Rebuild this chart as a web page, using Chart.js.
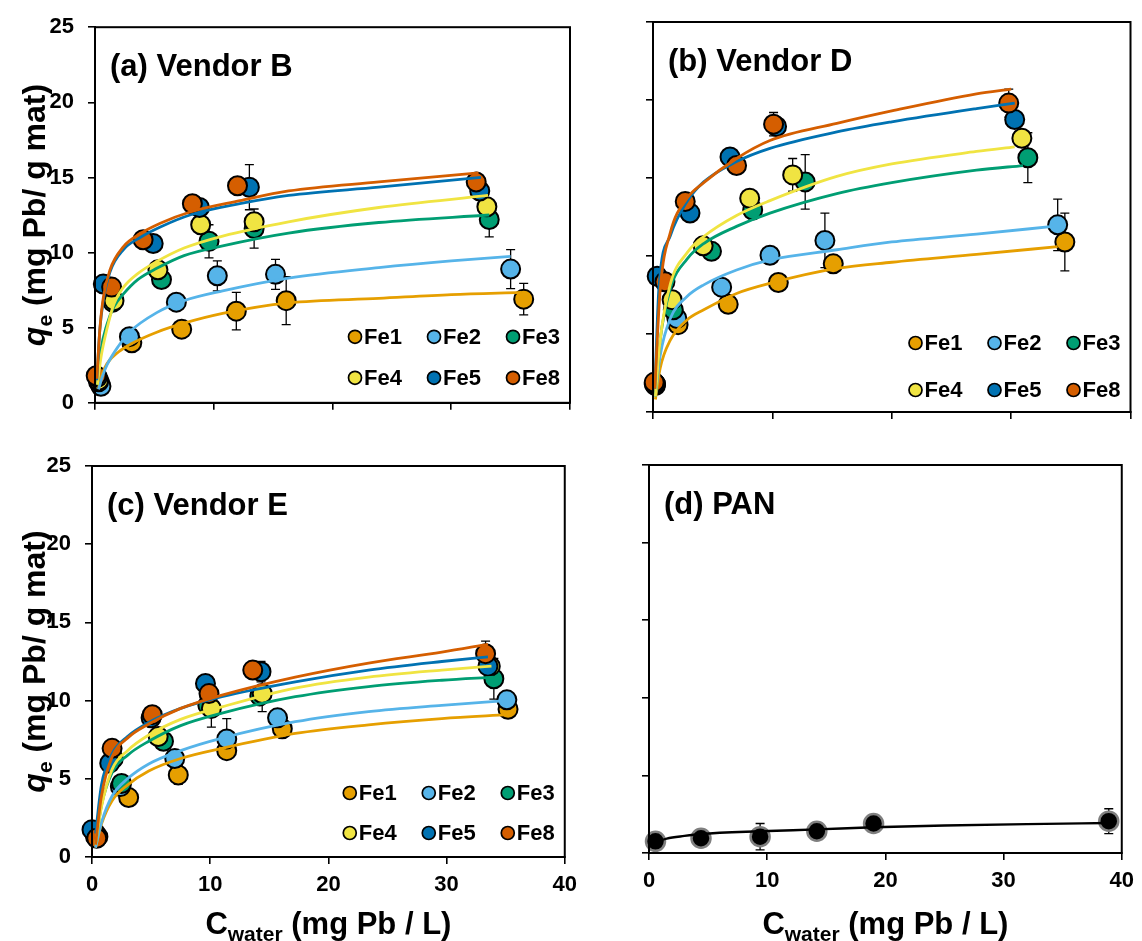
<!DOCTYPE html>
<html><head><meta charset="utf-8">
<script src="https://cdn.jsdelivr.net/npm/chart.js@4.4.1/dist/chart.umd.min.js"></script>
<style>
html,body{margin:0;padding:0;background:#fff;width:1142px;height:941px;overflow:hidden;}
canvas{position:absolute;}
</style></head><body>
<canvas id="pa" width="585" height="430" style="left:0px;top:0px;width:585px;height:430px"></canvas>
<canvas id="pb" width="552" height="430" style="left:590px;top:0px;width:552px;height:430px"></canvas>
<canvas id="pc" width="585" height="505" style="left:0px;top:436px;width:585px;height:505px"></canvas>
<canvas id="pd" width="552" height="505" style="left:590px;top:436px;width:552px;height:505px"></canvas>
<script>
// ---------- labels / ticks ----------
const seriesNames = ['Fe1','Fe2','Fe3','Fe4','Fe5','Fe8'];
const seriesColors = ['#E69F00','#56B4E9','#009E73','#F0E442','#0072B2','#D55E00'];
const panelTitles = ['(a) Vendor B','(b) Vendor D','(c) Vendor E','(d) PAN'];
const panLabel = ['PAN'];
const xTickStep = 10, xMin = 0, xMax = 40;
const yTickStep = 5, yMin = 0, yMax = 25;

// ---------- (a) Vendor B : [C, q, error] ----------
const vendorB_Fe1 = [[0.4,1.3,0],[3.1,4.0,0.4],[7.3,4.9,0.35],[11.9,6.1,1.25],[16.1,6.8,1.6],[36.1,6.9,1.05]];
const vendorB_Fe2 = [[0.5,1.1,0],[2.9,4.4,0],[6.85,6.7,0.45],[10.3,8.45,1.0],[15.2,8.55,1.0],[35.0,8.9,1.3]];
const vendorB_Fe3 = [[0.3,1.4,0],[1.5,6.7,0],[5.6,8.2,0],[9.6,10.75,1.1],[13.4,11.6,1.3],[33.2,12.2,1.15]];
const vendorB_Fe4 = [[0.3,1.5,0],[1.6,6.8,0],[5.3,8.85,0],[8.9,11.85,0],[13.4,12.05,0.5],[33.0,13.05,0]];
const vendorB_Fe5 = [[0.2,1.7,0],[0.7,7.9,0],[4.9,10.6,0],[8.8,13.0,0],[13.0,14.35,1.5],[32.4,14.1,0]];
const vendorB_Fe8 = [[0.1,1.8,0],[1.4,7.7,0],[4.05,10.85,0],[8.2,13.25,0],[12.0,14.45,0],[32.1,14.7,0]];
// fitted curves [C, q]
const vendorB_fit_Fe1 = [[0.3,1.0],[0.6,1.9],[1,2.6],[2,3.4],[3.1,3.95],[5.2,4.7],[7.5,5.3],[10.75,5.95],[16.3,6.65],[23.9,6.95],[30,7.2],[35.9,7.35]];
const vendorB_fit_Fe2 = [[0.3,0.9],[0.6,1.7],[1,2.5],[2,3.8],[2.9,4.7],[5.2,6.0],[7.5,6.8],[10.75,7.45],[16.3,8.3],[23.9,9.0],[30,9.45],[35.0,9.75]];
const vendorB_fit_Fe3 = [[0.2,1.2],[0.5,3.5],[1,5.2],[1.6,6.4],[2.4,7.25],[3.6,8.2],[5.2,8.95],[7.5,9.8],[10.75,10.45],[16.3,11.3],[23.9,12.0],[33.2,12.5]];
const vendorB_fit_Fe4 = [[0.2,1.2],[0.5,3.0],[1,4.9],[1.6,6.6],[2.4,7.7],[3.6,8.6],[5.2,9.4],[7.5,10.3],[10.75,11.1],[16.3,12.05],[23.9,13.0],[33.1,13.8]];
const vendorB_fit_Fe5 = [[0.15,1.5],[0.4,4.8],[0.7,6.8],[1.26,8.7],[2.4,10.2],[3.8,11.0],[5.5,11.7],[8,12.5],[12.2,13.25],[16.3,13.8],[23.9,14.35],[32.5,15.0]];
const vendorB_fit_Fe8 = [[0.15,1.6],[0.42,5.0],[0.7,7.0],[1.26,8.85],[2.4,10.4],[3.8,11.25],[5.5,11.95],[8,12.7],[12.2,13.45],[16.3,14.1],[23.9,14.7],[32.3,15.3]];

// ---------- (b) Vendor D ----------
const vendorD_Fe1 = [[0.2,1.7,0],[2.1,5.6,0],[6.3,6.9,0],[10.5,8.3,0],[15.1,9.5,0],[34.5,10.9,1.85]];
const vendorD_Fe2 = [[0.2,1.8,0],[2.0,6.0,0],[5.75,8.0,0],[9.8,10.05,0],[14.4,11.0,1.75],[33.9,12.0,1.65]];
const vendorD_Fe3 = [[0.2,1.8,0],[1.7,6.55,0],[4.9,10.3,0],[8.35,12.95,0],[12.75,14.75,1.75],[31.4,16.3,1.6]];
const vendorD_Fe4 = [[0.2,1.8,0],[1.6,7.2,0],[4.2,10.65,0],[8.1,13.7,0],[11.7,15.2,1.05],[30.9,17.55,0]];
const vendorD_Fe5 = [[0.1,1.8,0],[0.35,8.7,0],[3.1,12.75,0],[6.45,16.35,0],[10.35,18.3,0],[30.3,18.75,0]];
const vendorD_Fe8 = [[0.1,1.9,0],[1.0,8.35,0],[2.7,13.5,0],[7.0,15.8,0],[10.1,18.45,0.75],[29.8,19.8,0.9]];
const vendorD_fit_Fe1 = [[0.2,0.8],[0.6,2.8],[1.45,4.6],[2.85,5.9],[4.25,6.55],[7.0,7.6],[9.8,8.25],[15.4,9.2],[20,9.6],[27.1,10.1],[33.9,10.6]];
const vendorD_fit_Fe2 = [[0.2,1.0],[0.6,3.6],[1.45,6.0],[2.85,7.4],[4.25,8.15],[7.0,9.1],[9.8,9.75],[15.4,10.4],[20,10.9],[27.1,11.4],[33.5,11.9]];
const vendorD_fit_Fe3 = [[0.2,1.0],[0.6,4.6],[1.45,7.9],[2.85,9.8],[4.25,10.8],[7.0,11.9],[9.8,12.75],[15.4,14.0],[20,14.7],[27.1,15.5],[31,15.8]];
const vendorD_fit_Fe4 = [[0.2,1.0],[0.6,4.6],[1.45,8.2],[2.85,10.2],[4.25,11.25],[7.0,12.6],[9.8,13.55],[15.4,15.1],[20,15.9],[27.1,16.7],[30.3,17.0]];
const vendorD_fit_Fe5 = [[0.15,1.5],[0.5,8.0],[1.45,11.3],[2.85,13.5],[4.25,14.75],[7.0,16.05],[9.8,16.9],[15.4,17.95],[20,18.6],[27.1,19.45],[30.3,19.8]];
const vendorD_fit_Fe8 = [[0.15,1.5],[0.6,7.8],[1.45,11.5],[2.85,13.7],[4.25,14.7],[7.0,16.25],[9.8,17.4],[15.4,18.5],[20,19.3],[27.1,20.4],[30,20.7]];

// ---------- (c) Vendor E ----------
const vendorE_Fe1 = [[0.5,1.3,0],[3.1,3.8,0],[7.3,5.25,0.6],[11.4,6.8,0.4],[16.1,8.2,0],[35.2,9.45,0]];
const vendorE_Fe2 = [[0.3,1.5,0],[2.4,4.5,0],[7.0,6.3,0],[11.4,7.55,1.3],[15.7,8.9,0],[35.1,10.05,0]];
const vendorE_Fe3 = [[0.3,1.4,0],[2.5,4.7,0],[6.05,7.4,0],[9.8,9.7,0],[14.2,10.3,0],[34.0,11.4,1.3]];
const vendorE_Fe4 = [[0.3,1.3,0],[1.8,6.3,0],[5.6,7.7,0],[10.1,9.5,1.2],[14.4,10.45,1.15],[33.7,12.2,0]];
const vendorE_Fe5 = [[0.0,1.75,0],[1.5,6.0,0],[5.0,8.9,0],[9.6,11.1,0],[14.3,11.85,0.65],[33.5,12.2,0]];
const vendorE_Fe8 = [[0.4,1.2,0],[1.7,6.95,0],[5.1,9.1,0],[9.9,10.45,0],[13.6,11.95,0],[33.3,13.0,0.8]];
const vendorE_fit_Fe1 = [[0.3,0.6],[0.8,2.1],[1.7,3.6],[3,4.6],[4.8,5.5],[7.5,6.3],[11.0,6.95],[17.2,7.9],[23.4,8.45],[29.6,8.85],[35.2,9.1]];
const vendorE_fit_Fe2 = [[0.3,0.6],[0.8,2.2],[1.7,3.9],[3,5.0],[4.8,5.95],[7.5,6.8],[11.0,7.6],[17.2,8.65],[23.4,9.3],[29.6,9.7],[35.1,10.0]];
const vendorE_fit_Fe3 = [[0.3,0.8],[0.8,3.3],[1.7,5.4],[3,6.5],[4.8,7.4],[7.5,8.4],[11.0,9.2],[17.2,10.25],[23.4,10.9],[29.6,11.3],[34.0,11.5]];
const vendorE_fit_Fe4 = [[0.3,0.8],[0.8,3.2],[1.7,5.6],[3,6.8],[4.8,7.8],[7.5,8.8],[11.0,9.6],[17.2,10.8],[23.4,11.5],[29.6,11.95],[33.8,12.2]];
const vendorE_fit_Fe5 = [[0.3,1.5],[0.8,4.6],[1.7,6.6],[3,7.7],[4.8,8.6],[7.5,9.5],[11.0,10.25],[17.2,11.2],[23.4,11.95],[29.6,12.5],[33.5,12.8]];
const vendorE_fit_Fe8 = [[0.3,0.8],[0.8,3.9],[1.7,6.4],[3,7.6],[4.8,8.5],[7.5,9.5],[11.0,10.35],[17.2,11.5],[23.4,12.4],[29.6,13.1],[33.5,13.6]];

// ---------- (d) PAN ----------
const pan_pts = [[0.55,0.75,0],[4.4,0.95,0],[9.4,1.05,0.85],[14.2,1.4,0],[19.0,1.9,0],[38.9,2.05,0.8]];
const pan_fit = [[0.55,0.7],[1.5,0.93],[3,1.1],[4.4,1.22],[9.4,1.4],[14.2,1.52],[19,1.66],[25,1.77],[32,1.86],[38.9,1.93]];

// ---------- rendering ----------
const FONT = '"Liberation Sans", Arial, Helvetica, sans-serif';
Chart.defaults.font.family = FONT;
Chart.defaults.font.weight = 'bold';
Chart.defaults.font.size = 22;
Chart.defaults.color = '#000';

const errorBarPlugin = {
  id: 'errbars',
  beforeDatasetsDraw(chart) {
    const ctx = chart.ctx, xs = chart.scales.x, ys = chart.scales.y;
    ctx.save();
    ctx.strokeStyle = '#000';
    ctx.lineWidth = 1.3;
    chart.data.datasets.forEach(ds => {
      if (!ds.isPoints) return;
      ds.data.forEach(d => {
        if (!d.e) return;
        const px = xs.getPixelForValue(d.x);
        const pt = ys.getPixelForValue(d.y + d.e);
        const pb = ys.getPixelForValue(d.y - d.e);
        ctx.beginPath();
        ctx.moveTo(px, pt); ctx.lineTo(px, pb);
        ctx.moveTo(px - 4.5, pt); ctx.lineTo(px + 4.5, pt);
        ctx.moveTo(px - 4.5, pb); ctx.lineTo(px + 4.5, pb);
        ctx.stroke();
      });
    });
    ctx.restore();
  }
};

function drawParts(ctx, parts, x0, y0) {
  let w = 0;
  parts.forEach(p => { ctx.font = p.f; p.w = ctx.measureText(p.t).width; w += p.w; });
  let x = x0 - w / 2;
  parts.forEach(p => { ctx.font = p.f; ctx.fillText(p.t, x, y0 + p.dy); x += p.w; });
}

const decorPlugin = {
  id: 'decor',
  afterDraw(chart, args, o) {
    const ctx = chart.ctx, a = chart.chartArea;
    ctx.save();
    ctx.strokeStyle = '#000';
    ctx.lineWidth = 2;
    ctx.strokeRect(a.left, a.top, a.right - a.left, a.bottom - a.top);
    ctx.fillStyle = '#000';
    ctx.textAlign = 'left';
    ctx.textBaseline = 'alphabetic';
    ctx.font = 'bold 31px ' + FONT;
    ctx.fillText(o.title, a.left + 15, a.top + 49);
    if (o.legend) {
      const cols = [215, 136, 57];
      ctx.font = 'bold 22px ' + FONT;
      ctx.textBaseline = 'middle';
      o.legend.names.forEach((n, i) => {
        const cx = a.right - cols[i % 3];
        const cy = a.bottom - o.legend.rows[Math.floor(i / 3)];
        ctx.beginPath();
        ctx.arc(cx, cy, 6.5, 0, Math.PI * 2);
        ctx.fillStyle = o.legend.colors[i];
        ctx.fill();
        ctx.lineWidth = 1.7;
        ctx.strokeStyle = '#000';
        ctx.stroke();
        ctx.fillStyle = '#000';
        ctx.fillText(n, cx + 9, cy + 1);
      });
      ctx.textBaseline = 'alphabetic';
    }
    if (o.yTitle) {
      ctx.save();
      ctx.translate(o.yTitle.x, (a.top + a.bottom) / 2);
      ctx.rotate(-Math.PI / 2);
      drawParts(ctx, [
        {t: 'q', f: 'italic bold 32px ' + FONT, dy: 0},
        {t: 'e', f: 'bold 21px ' + FONT, dy: 7},
        {t: ' (mg Pb/ g mat)', f: 'bold 32px ' + FONT, dy: 0}
      ], 0, 0);
      ctx.restore();
    }
    if (o.xTitle) {
      drawParts(ctx, [
        {t: 'C', f: 'bold 31px ' + FONT, dy: 0},
        {t: 'water', f: 'bold 21px ' + FONT, dy: 7},
        {t: ' (mg Pb / L)', f: 'bold 31px ' + FONT, dy: 0}
      ], (a.left + a.right) / 2, o.xTitle.y);
    }
    ctx.restore();
  }
};

function makePanel(id, p) {
  const datasets = [];
  p.pts.forEach((s, i) => {
    datasets.push({
      label: p.names[i],
      isPoints: true,
      data: s.map(d => ({x: d[0], y: d[1], e: d[2]})),
      showLine: false,
      pointRadius: p.radius, pointHoverRadius: p.radius,
      pointBackgroundColor: p.fills[i],
      pointBorderColor: p.markerBorder,
      pointBorderWidth: p.markerBorderWidth,
      backgroundColor: p.fills[i],
      borderColor: p.markerBorder,
      clip: false,
      order: 40 - i
    });
  });
  p.fits.forEach((s, i) => {
    datasets.push({
      label: p.names[i] + ' fit',
      data: s.map(d => ({x: d[0], y: d[1]})),
      showLine: true,
      pointRadius: 0, pointHoverRadius: 0,
      borderColor: p.lineColors[i],
      backgroundColor: p.lineColors[i],
      borderWidth: p.lineWidth,
      cubicInterpolationMode: 'monotone',
      fill: false,
      order: 20 - i
    });
  });
  return new Chart(document.getElementById(id), {
    type: 'scatter',
    data: {datasets},
    plugins: [errorBarPlugin, decorPlugin],
    options: {
      responsive: false, animation: false, devicePixelRatio: 1,
      layout: {padding: {top: p.padTop, right: p.padRight, left: 0, bottom: 0}},
      plugins: {
        legend: {display: false}, tooltip: {enabled: false},
        decor: {title: p.title, legend: p.legend, yTitle: p.yTitle, xTitle: p.xTitle}
      },
      scales: {
        x: {
          type: 'linear', min: xMin, max: xMax,
          afterFit: s => { s.height = p.xh; },
          grid: {drawOnChartArea: false, drawTicks: true, tickLength: 7, color: '#000', lineWidth: 1.6},
          border: {display: true, color: '#000', width: 2},
          ticks: {display: p.xLabels, stepSize: xTickStep, padding: 8, maxRotation: 0, color: '#000', font: {size: 22, weight: 'bold'}}
        },
        y: {
          type: 'linear', min: yMin, max: yMax,
          afterFit: s => { s.width = p.yw; },
          grid: {drawOnChartArea: false, drawTicks: true, tickLength: 7, color: '#000', lineWidth: 1.6},
          border: {display: true, color: '#000', width: 2},
          ticks: {display: p.yLabels, stepSize: yTickStep, padding: 14, color: '#000', font: {size: 22, weight: 'bold'}}
        }
      }
    }
  });
}

const common = {names: seriesNames, fills: seriesColors, lineColors: seriesColors, markerBorder: '#000', markerBorderWidth: 2, radius: 9.5, lineWidth: 2.8};

makePanel('pa', Object.assign({}, common, {
  title: panelTitles[0],
  pts: [vendorB_Fe1, vendorB_Fe2, vendorB_Fe3, vendorB_Fe4, vendorB_Fe5, vendorB_Fe8],
  fits: [vendorB_fit_Fe1, vendorB_fit_Fe2, vendorB_fit_Fe3, vendorB_fit_Fe4, vendorB_fit_Fe5, vendorB_fit_Fe8],
  yw: 95, xh: 17, padTop: 23, padRight: 15, xLabels: false, yLabels: true,
  legend: {names: seriesNames, colors: seriesColors, rows: [66, 25]},
  yTitle: {x: 45}
}));
makePanel('pb', Object.assign({}, common, {
  title: panelTitles[1],
  pts: [vendorD_Fe1, vendorD_Fe2, vendorD_Fe3, vendorD_Fe4, vendorD_Fe5, vendorD_Fe8],
  fits: [vendorD_fit_Fe1, vendorD_fit_Fe2, vendorD_fit_Fe3, vendorD_fit_Fe4, vendorD_fit_Fe5, vendorD_fit_Fe8],
  yw: 63, xh: 18, padTop: 22, padRight: 8, xLabels: false, yLabels: false,
  legend: {names: seriesNames, colors: seriesColors, rows: [69, 22]}
}));
makePanel('pc', Object.assign({}, common, {
  title: panelTitles[2],
  pts: [vendorE_Fe1, vendorE_Fe2, vendorE_Fe3, vendorE_Fe4, vendorE_Fe5, vendorE_Fe8],
  fits: [vendorE_fit_Fe1, vendorE_fit_Fe2, vendorE_fit_Fe3, vendorE_fit_Fe4, vendorE_fit_Fe5, vendorE_fit_Fe8],
  yw: 92, xh: 84, padTop: 30, padRight: 16, xLabels: true, yLabels: true,
  legend: {names: seriesNames, colors: seriesColors, rows: [64, 24]},
  yTitle: {x: 45}, xTitle: {y: 934 - 436}
}));
makePanel('pd', Object.assign({}, common, {
  title: panelTitles[3],
  names: panLabel, fills: ['#000000'], lineColors: ['#000000'],
  markerBorder: '#7f7f7f', markerBorderWidth: 2.5, radius: 9.5, lineWidth: 2.4,
  pts: [pan_pts], fits: [pan_fit],
  yw: 59, xh: 88, padTop: 29, padRight: 15, xLabels: true, yLabels: false,
  legend: null,
  xTitle: {y: 934 - 436}
}));
</script>
</body></html>
